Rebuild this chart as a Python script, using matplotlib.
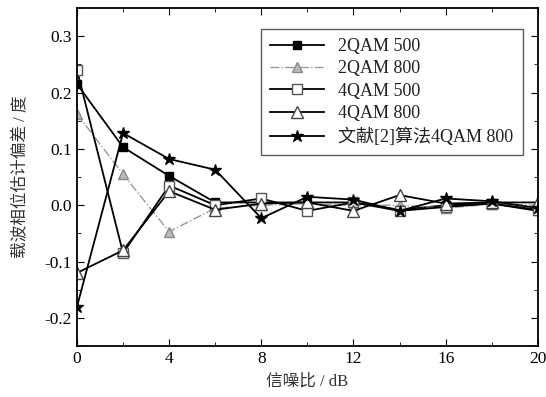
import numpy as np
import matplotlib.pyplot as plt
from matplotlib.ticker import MultipleLocator

# Data
snr = [0, 2, 4, 6, 8, 10, 12, 14, 16, 18, 20]
qam2_500 = [0.215, 0.103, 0.052, 0.005, 0.005, 0.005, 0.005, -0.008, 0.000, 0.003, -0.010]
qam2_800 = [0.162, 0.055, -0.047, -0.005, 0.000, 0.003, 0.000, 0.000, -0.005, 0.002, 0.000]
qam4_500 = [0.240, -0.085, 0.035, 0.000, 0.012, -0.010, 0.005, -0.010, -0.003, 0.003, -0.008]
qam4_800 = [-0.120, -0.080, 0.025, -0.008, 0.003, 0.005, -0.010, 0.018, 0.003, 0.005, 0.005]
ref_800 = [-0.180, 0.128, 0.082, 0.063, -0.023, 0.015, 0.010, -0.010, 0.012, 0.007, -0.005]
labels = ["2QAM 500", "2QAM 800", "4QAM 500", "4QAM 800", "文献[2]算法4QAM 800"]

fam = ["Liberation Serif", "Noto Sans CJK SC"]
plt.rcParams["font.family"] = fam

fig = plt.figure(figsize=(5.46, 3.97), dpi=100)
ax = fig.add_axes([0.141, 0.128, 0.844, 0.852])

ax.plot(snr, qam2_500, "-s", color="black", lw=1.3, ms=6,
        markerfacecolor="black", label=labels[0])
ax.plot(snr, qam2_800, "-.^", color="#999999", lw=1.0, ms=7,
        markerfacecolor="#bbbbbb", markeredgecolor="#888888", label=labels[1])
ax.plot(snr, qam4_500, "-s", color="black", lw=1.3, ms=7,
        markerfacecolor="white", markeredgecolor="#555555", label=labels[2])
ax.plot(snr, qam4_800, "-^", color="black", lw=1.3, ms=8,
        markerfacecolor="white", markeredgecolor="#444444", label=labels[3])
ax.plot(snr, ref_800, "-*", color="black", lw=1.3, ms=9,
        markerfacecolor="black", label=labels[4])

ax.set_xlim(0, 20)
ax.set_ylim(-0.25, 0.35)
ax.xaxis.set_major_locator(MultipleLocator(4))
ax.xaxis.set_minor_locator(MultipleLocator(2))
ax.yaxis.set_major_locator(MultipleLocator(0.1))
ax.yaxis.set_minor_locator(MultipleLocator(0.05))
ax.set_yticks([-0.2, -0.1, 0.0, 0.1, 0.2, 0.3])
ax.set_yticklabels(["-0.2", "-0.1", "0.0", "0.1", "0.2", "0.3"])
ax.tick_params(which="both", direction="in", top=True, right=True, labelsize=12.5)
ax.tick_params(which="major", length=5)
ax.tick_params(which="minor", length=3)
for s in ax.spines.values():
    s.set_linewidth(1.3)

ax.set_xlabel("信噪比 / dB", fontsize=12, color="#333333", labelpad=5)
ax.set_ylabel("载波相位估计偏差 / 度", fontsize=12, color="#333333", labelpad=12)

leg = ax.legend(loc="upper right", bbox_to_anchor=(0.967, 0.938), fontsize=13,
                frameon=True, fancybox=False, edgecolor="#333333",
                handlelength=3.0, handletextpad=0.8, labelspacing=0.3,
                borderpad=0.5, borderaxespad=0, labelcolor="#222222")
leg.get_frame().set_linewidth(1.0)

fig.savefig("out.png", dpi=100)
